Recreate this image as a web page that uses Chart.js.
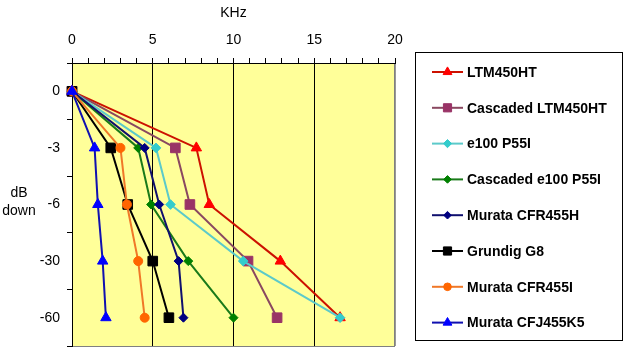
<!DOCTYPE html>
<html>
<head>
<meta charset="utf-8">
<script src="https://cdn.jsdelivr.net/npm/chart.js@4/dist/chart.umd.min.js"></script>
<style>
  html, body { margin: 0; padding: 0; background: #fff; }
  #wrap { width: 640px; height: 356px; position: relative; }
</style>
</head>
<body>
<div id="wrap"><canvas id="c" width="640" height="356"></canvas></div>
<script>
// ---- data ----
const dbLabels = ['0', '-3', '-6', '-30', '-60'];
const seriesNames = ['LTM450HT', 'Cascaded LTM450HT', 'e100 P55I', 'Cascaded e100 P55I',
                     'Murata CFR455H', 'Grundig G8', 'Murata CFR455I', 'Murata CFJ455K5'];
const ltm450ht        = [0, 7.7, 8.5, 12.9, 16.6];
const cascadedLtm     = [0, 6.4, 7.3, 10.9, 12.7];
const e100P55I        = [0, 5.2, 6.1, 10.6, 16.6];
const cascadedE100    = [0, 4.1, 4.9, 7.2, 10.0];
const murataCFR455H   = [0, 4.5, 5.4, 6.6, 6.9];
const grundigG8       = [0, 2.4, 3.45, 5.0, 6.0];
const murataCFR455I   = [0, 3.0, 3.4, 4.1, 4.5];
const murataCFJ455K5  = [0, 1.4, 1.6, 1.9, 2.1];
const xTickLabels = [0, 5, 10, 15, 20];

const seriesValues = [ltm450ht, cascadedLtm, e100P55I, cascadedE100,
                      murataCFR455H, grundigG8, murataCFR455I, murataCFJ455K5];
const lineColors   = ['#CC1100', '#8A4860', '#5CCACA', '#1A7A1A', '#10106E', '#000000', '#F07828', '#1010B0'];
const markColors   = ['#FF0000', '#993366', '#33CCCC', '#008000', '#000080', '#000000', '#FF6600', '#0000FF'];
const markStyles   = ['triangle', 'rect', 'rectRot', 'rectRot', 'rectRot', 'rect', 'circle', 'triangle'];
const markRadius   = [6, 6.8, 4.8, 4.5, 4.5, 6.8, 4.5, 6];

const FONT = "'Liberation Sans', Arial, sans-serif";

const datasets = seriesNames.map((name, i) => ({
  label: name,
  data: seriesValues[i],
  borderColor: lineColors[i],
  backgroundColor: markColors[i],
  pointBackgroundColor: markColors[i],
  pointBorderColor: markColors[i],
  pointBorderWidth: 1,
  pointStyle: markStyles[i],
  pointRadius: markRadius[i],
  pointHoverRadius: markRadius[i],
  borderWidth: 2,
  tension: 0,
  fill: false,
  clip: false,
  order: seriesNames.length - i
}));

const bgPlugin = {
  id: 'bg',
  beforeDraw(chart) {
    const { ctx, chartArea: a } = chart;
    ctx.save();
    ctx.fillStyle = '#FFFF99';
    ctx.fillRect(a.left, a.top, a.right - a.left, a.bottom - a.top);
    ctx.strokeStyle = '#808080';
    ctx.lineWidth = 1;
    ctx.strokeRect(a.left + 0.5, a.top + 0.5, a.right - a.left - 1, a.bottom - a.top);
    ctx.restore();
  },
  afterDraw(chart) {
    const { ctx } = chart;
    ctx.save();
    // y axis title
    ctx.fillStyle = '#000';
    ctx.font = '14px ' + FONT;
    ctx.textAlign = 'center';
    ctx.textBaseline = 'middle';
    ctx.fillText('dB', 19, 193);
    ctx.fillText('down', 19, 211);
    // legend box
    const bx = 415, by = 52, bw = 207, bh = 288;
    ctx.strokeStyle = '#000';
    ctx.lineWidth = 1;
    ctx.strokeRect(bx + 0.5, by + 0.5, bw, bh);
    ctx.font = 'bold 14px ' + FONT;
    ctx.textAlign = 'left';
    chart.data.datasets.forEach((ds, i) => {
      const y = 72 + i * 35.8;
      ctx.strokeStyle = ds.borderColor;
      ctx.lineWidth = 2;
      ctx.beginPath();
      ctx.moveTo(432, y);
      ctx.lineTo(463, y);
      ctx.stroke();
      ctx.fillStyle = ds.pointBackgroundColor;
      ctx.strokeStyle = ds.pointBorderColor;
      ctx.lineWidth = 1;
      Chart.helpers.drawPoint(ctx, { pointStyle: ds.pointStyle, radius: ds.pointRadius * 0.85, rotation: 0, borderWidth: 1 }, 447.5, y);
      ctx.fillStyle = '#000';
      ctx.fillText(ds.label, 467, y + 1);
    });
    ctx.restore();
  }
};

new Chart(document.getElementById('c'), {
  type: 'line',
  data: { labels: dbLabels, datasets },
  plugins: [bgPlugin],
  options: {
    indexAxis: 'y',
    responsive: false,
    animation: false,
    events: [],
    layout: { padding: { left: 0, right: 245, top: 0, bottom: 10 } },
    plugins: { legend: { display: false }, tooltip: { enabled: false } },
    scales: {
      x: {
        type: 'linear',
        position: 'top',
        min: 0,
        max: 20,
        afterFit(s) { s.height = 63; s.paddingLeft = 0; s.paddingRight = 0; },
        afterBuildTicks(s) {
          const t = [];
          for (let v = 0; v <= 20; v++) t.push({ value: v });
          s.ticks = t;
        },
        ticks: {
          autoSkip: false,
          maxRotation: 0,
          color: '#000',
          padding: 9,
          font: { family: FONT, size: 14 },
          callback: (v) => (xTickLabels.includes(v) ? String(v) : '')
        },
        title: {
          display: true,
          text: 'KHz',
          color: '#000',
          font: { family: FONT, size: 14 },
          padding: { top: 5, bottom: 4 }
        },
        grid: {
          drawOnChartArea: true,
          drawTicks: true,
          tickLength: 5,
          color: (c) => {
            const v = c.tick ? c.tick.value : -1;
            if (v === 20) return '#999999';
            if (v === 5 || v === 10 || v === 15) return '#000000';
            return 'rgba(0,0,0,0)';
          },
          tickColor: '#000000',
          lineWidth: 1
        },
        border: { display: true, color: '#000', width: 1 }
      },
      y: {
        type: 'category',
        offset: true,
        afterFit(s) { s.width = 72; s.paddingTop = 0; s.paddingBottom = 0; },
        ticks: {
          color: '#000',
          padding: 7,
          font: { family: FONT, size: 14 }
        },
        grid: {
          offset: true,
          drawOnChartArea: false,
          drawTicks: true,
          tickLength: 5,
          tickColor: '#000'
        },
        border: { display: true, color: '#000', width: 1 }
      }
    }
  }
});
</script>
</body>
</html>
